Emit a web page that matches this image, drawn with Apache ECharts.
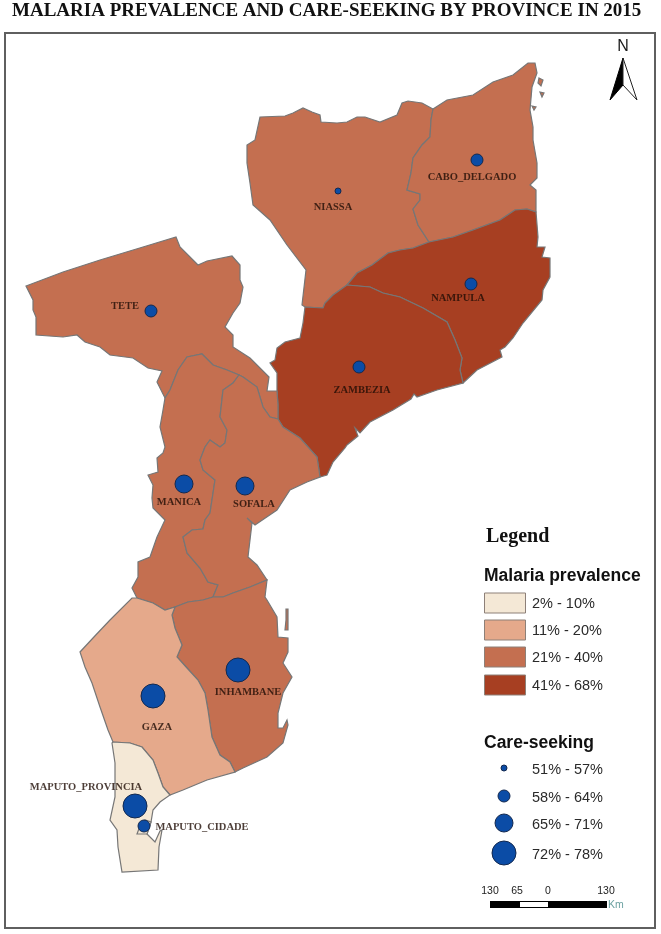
<!DOCTYPE html>
<html><head><meta charset="utf-8">
<style>html,body{margin:0;padding:0;background:#fff}#c{width:661px;height:934px}</style>
<script src="https://cdn.jsdelivr.net/npm/echarts@6/dist/echarts.min.js"></script>
</head><body><div id="c"></div>
<script>
// ---- Province geometry (traced boundary segments, shared between neighbours) ----
const nNiassa=[[260,117],[285,116],[293,113],[303,108],[312,112],[320,115],[321,122],[337,123],[347,122],[357,117],[365,117],[380,122],[397,115],[402,103],[408,101],[422,103],[433,109]];
const bNiassaCabo=[[433,109],[431,120],[430,137],[422,145],[413,158],[411,173],[407,190],[420,194],[420,200],[413,209],[418,225],[429,242]];
const bNiassaNampula=[[429,242],[413,248],[400,250],[388,253],[372,265],[357,273],[347,285]];
const bNiassaZambezia=[[347,285],[333,295],[325,303],[323,308],[305,307]];
const wNiassa=[[305,307],[302,305],[306,270],[287,245],[270,220],[253,205],[250,183],[247,163],[247,145],[255,140],[260,117]];
const nCabo=[[433,109],[447,100],[473,95],[493,82],[513,75],[528,63],[535,63],[537,73],[532,87],[530,110],[533,127],[533,140],[537,163],[537,178],[530,185],[536,190],[536,212]];
const bCaboNampula=[[536,212],[527,209],[515,210],[500,220],[473,230],[453,237],[429,242]];
const eNampula=[[536,212],[538,237],[537,247],[545,247],[542,257],[550,258],[550,277],[543,290],[542,300],[523,323],[513,338],[505,347],[500,350],[502,357],[477,370],[463,383]];
const bNampulaZambezia=[[463,383],[460,370],[462,358],[455,340],[447,322],[423,308],[400,297],[383,293],[370,287],[347,285]];
const cZambezia=[[463,383],[437,390],[417,397],[414,394],[411,399],[393,410],[370,422],[360,433],[355,428],[358,436],[347,445],[345,448],[333,462],[327,475],[320,477]];
const bSofalaZambezia=[[278,419],[283,427],[300,438],[317,457],[320,477]];
const bTeteZambezia=[[278,419],[278,405],[277,391]];
const wZambezia=[[277,391],[277,373],[270,363],[275,360],[277,348],[285,342],[300,338],[303,323],[305,307]];
const oTete=[[165,398],[157,382],[162,371],[148,368],[133,358],[110,355],[100,347],[85,342],[77,335],[63,337],[36,335],[36,317],[33,310],[33,300],[26,286],[63,272],[100,260],[143,247],[176,237],[180,247],[195,262],[198,265],[207,261],[232,256],[240,265],[240,280],[243,287],[240,303],[233,313],[225,327],[233,335],[233,347],[250,358],[269,377],[267,391],[277,391]];
const bTeteSofala=[[278,419],[270,417],[263,407],[257,387],[243,377],[239,375]];
const bTeteManica=[[239,375],[227,370],[213,365],[202,354],[187,357],[178,370],[170,390],[165,398]];
const bManicaSofala=[[239,375],[233,383],[223,390],[220,417],[227,430],[225,443],[220,447],[210,440],[205,447],[200,460],[203,470],[215,480],[210,513],[205,520],[203,529],[192,530],[183,537],[187,553],[200,568],[208,582],[218,585],[213,597]];
const bManicaInhambane=[[213,597],[203,600],[188,602],[175,607]];
const bManicaGaza=[[175,607],[165,610],[153,603],[137,598]];
const wManica=[[137,598],[132,588],[138,577],[138,562],[150,557],[157,537],[165,520],[153,508],[152,498],[153,485],[148,475],[158,472],[157,458],[163,453],[165,447],[160,427],[163,410],[165,398]];
const cSofala=[[320,477],[307,482],[290,490],[277,510],[255,525],[247,518],[252,523],[248,557],[257,565],[267,580]];
const bSofalaInhambane=[[267,580],[250,587],[233,593],[223,597],[213,597]];
const cInhambane=[[267,580],[265,597],[267,600],[277,617],[278,637],[288,638],[288,652],[283,663],[292,677],[283,693],[278,713],[278,728],[283,728],[287,720],[288,725],[283,743],[267,757],[243,768],[235,772]];
const bInhambaneGaza=[[235,772],[230,762],[220,755],[212,737],[208,710],[205,693],[198,680],[187,668],[177,657],[182,645],[175,628],[172,615],[175,607]];
const cGaza=[[235,772],[207,780],[183,790],[170,795]];
const bGazaMaputo=[[170,795],[163,787],[158,773],[153,760],[142,747],[130,743],[113,742]];
const wGaza=[[113,742],[108,730],[100,707],[92,683],[85,667],[80,652],[93,638],[110,620],[132,598],[137,598]];
const cMaputo=[[170,795],[160,802],[153,810],[151,822],[147,834],[155,842],[160,831],[162,830],[159,847],[158,870],[122,872],[118,847],[117,830],[110,820],[115,797],[115,763],[112,743]];
const ringCidade=[[137,834],[147,834],[151,822],[145,820],[140,826]];
const islandsCabo=[[[539,78],[543,80],[541,86],[538,83]],[[540,92],[544,93],[542,97]],[[532,106],[536,107],[534,110]]];
const islandsInhambane=[[[286,609],[288,609],[288,630],[285,630],[286,620]]];

// ---- Values (class estimates) ----
const provinces=['Niassa','Cabo Delgado','Nampula','Zambezia','Tete','Manica','Sofala','Inhambane','Gaza','Maputo Provincia','Maputo Cidade'];
const prevalence=[32,30,48,68,31,33,32,28,15,4,3];
const careSeeking=[54,60,61,60,62,68,69,75,74,76,60];
const dotLon=[338,477,471,359,151,184,245,238,153,135,144];
const dotLat=[191,160,284,367,311,484,486,670,696,806,826];
const labelTexts=['NIASSA','CABO_DELGADO','NAMPULA','ZAMBEZIA','TETE','MANICA','SOFALA','INHAMBANE','GAZA','MAPUTO_PROVINCIA','MAPUTO_CIDADE'];
const labelLon=[333,472,458,362,125,179,254,248,157,86,202];
const labelLat=[207,177,298,390,306,502,504,692,727,787,827];

// ---- Legend classes ----
const prevClasses=[[2,10],[11,20],[21,40],[41,68]];
const prevColors=['#F4E8D6','#E5A98B','#C46F50','#A73F22'];
const careClasses=[[51,57],[58,64],[65,71],[72,78]];
const careSizes=[6,12,18,24];
const scaleLabels=['130','65','0','130'];

const rev=a=>a.slice().reverse();
const rings={
 'Niassa':[[].concat(nNiassa,bNiassaCabo,bNiassaNampula,bNiassaZambezia,wNiassa)],
 'Cabo Delgado':[[].concat(nCabo,bCaboNampula,rev(bNiassaCabo))].concat(islandsCabo),
 'Nampula':[[].concat(rev(bCaboNampula),eNampula,bNampulaZambezia,rev(bNiassaNampula))],
 'Zambezia':[[].concat(rev(bNiassaZambezia),rev(bNampulaZambezia),cZambezia,rev(bSofalaZambezia),bTeteZambezia,wZambezia)],
 'Tete':[[].concat(oTete,rev(bTeteZambezia),bTeteSofala,bTeteManica)],
 'Manica':[[].concat(rev(bTeteManica),bManicaSofala,bManicaInhambane,bManicaGaza,wManica)],
 'Sofala':[[].concat(rev(bTeteSofala),bSofalaZambezia,cSofala,bSofalaInhambane,rev(bManicaSofala))],
 'Inhambane':[[].concat(rev(bSofalaInhambane),cInhambane,bInhambaneGaza,rev(bManicaInhambane))].concat(islandsInhambane),
 'Gaza':[[].concat(rev(bManicaGaza),rev(bInhambaneGaza),cGaza,bGazaMaputo,wGaza)],
 'Maputo Provincia':[[].concat(rev(bGazaMaputo),cMaputo)],
 'Maputo Cidade':[ringCidade]
};
const toGeo=r=>{const p=r.map(q=>[q[0],-q[1]]);p.push(p[0]);return [p];};
const geojson={type:'FeatureCollection',features:provinces.map(n=>({type:'Feature',properties:{name:n},
  geometry:{type:'MultiPolygon',coordinates:rings[n].map(toGeo)}}))};
echarts.registerMap('moz',geojson);

const chart=echarts.init(document.getElementById('c'),null,{renderer:'canvas'});
const SERIF='"Liberation Serif","Times New Roman",serif', SANS='"Liberation Sans",Arial,sans-serif';
const sizeFor=v=>{const i=careClasses.findIndex(c=>v>=c[0]&&v<=c[1]);return careSizes[i];};

const gfx=[];
gfx.push({type:'rect',shape:{x:5,y:33,width:650,height:895},style:{fill:'none',stroke:'#5f5f5f',lineWidth:2},silent:true});
// north arrow
gfx.push({type:'text',style:{x:623,y:47,text:'N',fill:'#1a1a1a',font:'16px '+SANS,textAlign:'center',textVerticalAlign:'middle'},silent:true});
gfx.push({type:'polygon',shape:{points:[[623,58],[610,100],[623,85]]},style:{fill:'#000',stroke:'#000',lineWidth:1},silent:true});
gfx.push({type:'polygon',shape:{points:[[623,58],[637,100],[623,85]]},style:{fill:'#fff',stroke:'#222',lineWidth:1},silent:true});
// legend
gfx.push({type:'text',style:{x:486,y:537,text:'Legend',fill:'#111',font:'bold 20px '+SERIF,textVerticalAlign:'middle'},silent:true});
gfx.push({type:'text',style:{x:484,y:576,text:'Malaria prevalence',fill:'#111',font:'bold 17.5px '+SANS,textVerticalAlign:'middle'},silent:true});
const swatchY=[593,620,647,675];
prevClasses.forEach((c,i)=>{
  gfx.push({type:'rect',shape:{x:484.5,y:swatchY[i],width:41,height:20},style:{fill:prevColors[i],stroke:'#8d8078',lineWidth:1},silent:true});
  gfx.push({type:'text',style:{x:532,y:swatchY[i]+11,text:c[0]+'% - '+c[1]+'%',fill:'#2a2a2a',font:'14.5px '+SANS,textVerticalAlign:'middle'},silent:true});
});
gfx.push({type:'text',style:{x:484,y:743,text:'Care-seeking',fill:'#111',font:'bold 17.5px '+SANS,textVerticalAlign:'middle'},silent:true});
const careY=[768,796,823,853];
careClasses.forEach((c,i)=>{
  gfx.push({type:'circle',shape:{cx:504,cy:careY[i],r:careSizes[i]/2},style:{fill:'#0B4CA6',stroke:'#13294f',lineWidth:1},silent:true});
  gfx.push({type:'text',style:{x:532,y:careY[i]+2,text:c[0]+'% - '+c[1]+'%',fill:'#2a2a2a',font:'14.5px '+SANS,textVerticalAlign:'middle'},silent:true});
});
// scale bar
const scaleX=[490,517,548,606];
scaleLabels.forEach((t,i)=>gfx.push({type:'text',style:{x:scaleX[i],y:891,text:t,fill:'#222',font:'10.5px '+SANS,textAlign:'center',textVerticalAlign:'middle'},silent:true}));
gfx.push({type:'rect',shape:{x:490,y:901,width:117,height:7},style:{fill:'#000'},silent:true});
gfx.push({type:'rect',shape:{x:520,y:902,width:28,height:5},style:{fill:'#fff'},silent:true});
gfx.push({type:'text',style:{x:608,y:905,text:'Km',fill:'#6aa0a0',font:'10.5px '+SANS,textVerticalAlign:'middle'},silent:true});

chart.setOption({
  animation:false,
  backgroundColor:'#fff',
  title:{text:'MALARIA PREVALENCE AND CARE-SEEKING BY PROVINCE IN 2015',left:7,top:-3,
    textStyle:{fontFamily:SERIF,fontWeight:'bold',fontSize:19,color:'#111'}},
  tooltip:{show:false},
  geo:{map:'moz',left:0,top:0,width:661,height:934,aspectScale:1,roam:false,silent:true,
    boundingCoords:[[0,0],[661,-934]],
    label:{show:false},
    itemStyle:{borderColor:'#767676',borderWidth:1.2,areaColor:'#ddd'},
    emphasis:{disabled:true}},
  visualMap:{show:false,type:'piecewise',seriesIndex:0,
    pieces:prevClasses.map((c,i)=>({min:c[0],max:c[1],color:prevColors[i]}))},
  series:[
    {type:'map',geoIndex:0,silent:true,data:provinces.map((n,i)=>({name:n,value:prevalence[i]}))},
    {type:'scatter',coordinateSystem:'geo',silent:true,z:5,
      data:provinces.map((n,i)=>({name:n,value:[dotLon[i],-dotLat[i],careSeeking[i]]})),
      symbolSize:d=>sizeFor(d[2]),
      itemStyle:{color:'#0B4CA6',borderColor:'#13294f',borderWidth:1,opacity:1}},
    {type:'scatter',coordinateSystem:'geo',silent:true,z:6,symbolSize:0,
      data:labelTexts.map((t,i)=>({name:t,value:[labelLon[i],-labelLat[i]]})),
      label:{show:true,position:'inside',formatter:'{b}',fontFamily:SERIF,fontWeight:'bold',fontSize:10.5,color:'#1f0d05'}}
  ],
  graphic:{elements:gfx}
});
</script></body></html>
